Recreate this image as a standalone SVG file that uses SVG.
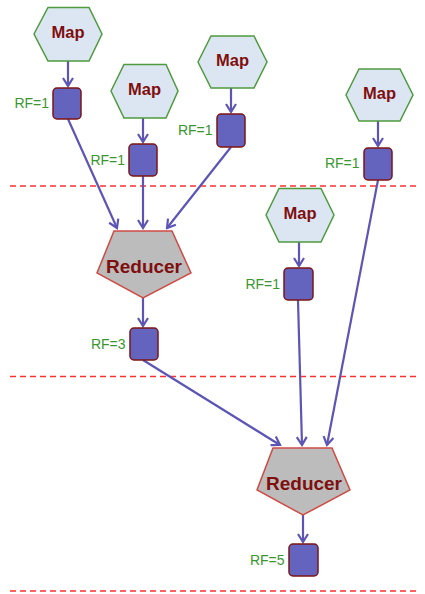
<svg xmlns="http://www.w3.org/2000/svg" width="425" height="594" viewBox="0 0 425 594">
<style>
.hex{fill:#dce6f2;stroke:#4e9a3e;stroke-width:1.5}
.red{fill:#bcbcbc;stroke:#d04a44;stroke-width:1.5}
.box{fill:#6464bf;stroke:#7c1414;stroke-width:1.5}
.mt{font-family:"Liberation Sans",Arial,sans-serif;font-weight:bold;font-size:16.5px;fill:#7f0f0f;text-anchor:middle}
.rt{font-family:"Liberation Sans",Arial,sans-serif;font-weight:bold;font-size:19px;fill:#7f0f0f;text-anchor:middle}
.rf{font-family:"Liberation Sans",Arial,sans-serif;font-size:14px;fill:#3a962e;text-anchor:end}
.ln{stroke:#5c55b5;stroke-width:2.2;fill:none;marker-end:url(#ah)}
.dash{stroke:#ff3030;stroke-width:1.3;stroke-dasharray:6 4}
</style>
<defs>
<marker id="ah" viewBox="-10 -7 12 14" refX="0" refY="0" markerWidth="12" markerHeight="14" markerUnits="userSpaceOnUse" orient="auto">
<path d="M-8,-5 L0,0 L-8,5" fill="none" stroke="#5c55b5" stroke-width="2.2" stroke-linejoin="miter"/>
</marker>
</defs>
<g id="separators">
<line class="dash" x1="10" y1="186" x2="420" y2="186"/>
<line class="dash" x1="10" y1="376.5" x2="420" y2="376.5"/>
<line class="dash" x1="10" y1="591" x2="420" y2="591"/>
</g>
<g id="connectors">
<line class="ln" x1="68" y1="61" x2="68" y2="86"/>
<line class="ln" x1="143" y1="118" x2="143" y2="142"/>
<line class="ln" x1="231" y1="88" x2="231" y2="112"/>
<line class="ln" x1="378" y1="121" x2="378" y2="146"/>
<line class="ln" x1="299" y1="242" x2="299" y2="266"/>
<line class="ln" x1="68" y1="119" x2="117" y2="228"/>
<line class="ln" x1="143" y1="176" x2="143" y2="228"/>
<line class="ln" x1="231" y1="147" x2="167" y2="228"/>
<line class="ln" x1="143" y1="298" x2="143" y2="326"/>
<line class="ln" x1="143" y1="360" x2="280" y2="445"/>
<line class="ln" x1="298" y1="300" x2="302" y2="445"/>
<line class="ln" x1="378" y1="180" x2="327" y2="445"/>
<line class="ln" x1="303" y1="515" x2="303" y2="542"/>
</g>
<g id="map1">
<polygon class="hex" points="34,34 48,7.5 89,7.5 102,34 89,61 48,61"/>
<text class="mt" x="68" y="37.5">Map</text>
</g>
<g id="map2">
<polygon class="hex" points="111,91 124,64.5 166,64.5 178,91 166,118 124,118"/>
<text class="mt" x="144.5" y="95">Map</text>
</g>
<g id="map3">
<polygon class="hex" points="198,62 211,36 254,36 267,62 254,88 211,88"/>
<text class="mt" x="232.5" y="66">Map</text>
</g>
<g id="map4">
<polygon class="hex" points="346,95 359,69 400,69 413,95 400,121 359,121"/>
<text class="mt" x="379.5" y="99">Map</text>
</g>
<g id="map5">
<polygon class="hex" points="266,215 279,188.5 321,188.5 334,215 321,242 279,242"/>
<text class="mt" x="300" y="219">Map</text>
</g>
<g id="box1">
<rect class="box" x="53" y="88" width="28" height="31" rx="4"/>
<text class="rf" x="49" y="108">RF=1</text>
</g>
<g id="box2">
<rect class="box" x="129" y="144" width="28" height="32" rx="4"/>
<text class="rf" x="125" y="164.5">RF=1</text>
</g>
<g id="box3">
<rect class="box" x="217" y="114" width="28" height="33" rx="4"/>
<text class="rf" x="212.5" y="135">RF=1</text>
</g>
<g id="box4">
<rect class="box" x="364" y="148" width="28" height="32" rx="4"/>
<text class="rf" x="359.5" y="168">RF=1</text>
</g>
<g id="box5">
<rect class="box" x="284" y="268" width="29" height="32" rx="4"/>
<text class="rf" x="280" y="288.5">RF=1</text>
</g>
<g id="reducer1">
<polygon class="red" points="114,231 172,231 191,273 143,298 97,273"/>
<text class="rt" x="144" y="273">Reducer</text>
</g>
<g id="box6">
<rect class="box" x="130" y="328" width="28" height="32" rx="4"/>
<text class="rf" x="125.5" y="348.5">RF=3</text>
</g>
<g id="reducer2">
<polygon class="red" points="273,448 332,448 350,490 303,515 257,490"/>
<text class="rt" x="304" y="490">Reducer</text>
</g>
<g id="box7">
<rect class="box" x="289" y="544" width="29" height="32" rx="4"/>
<text class="rf" x="284.5" y="564.5">RF=5</text>
</g>
</svg>
